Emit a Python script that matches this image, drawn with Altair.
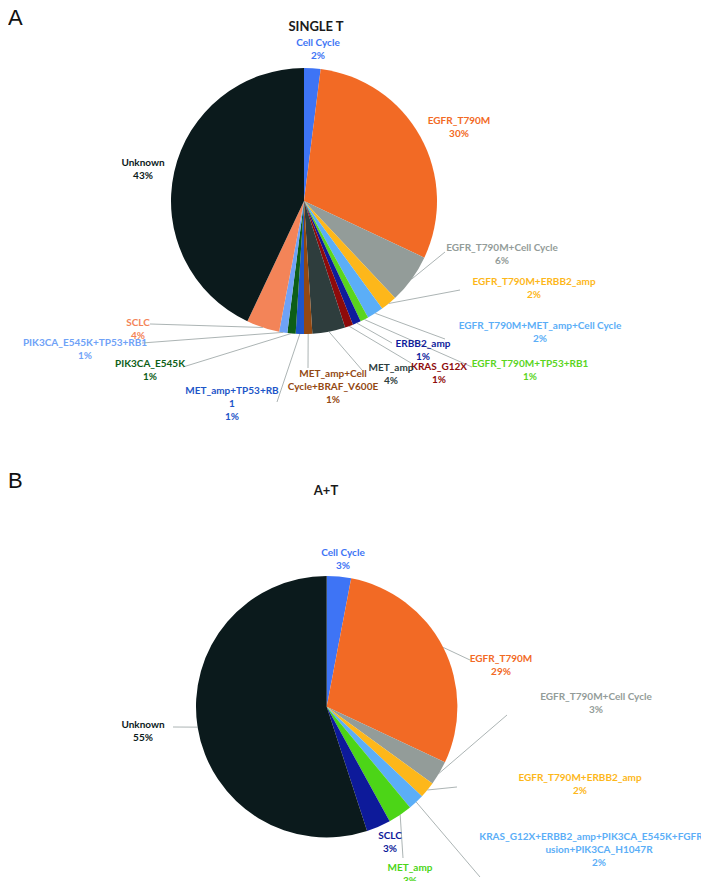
import math
import altair as alt
import pandas as pd

# ---------------- data ----------------
A_title = "SINGLE T"
A_categories = [
    "Cell Cycle", "EGFR_T790M", "EGFR_T790M+Cell Cycle", "EGFR_T790M+ERBB2_amp",
    "EGFR_T790M+MET_amp+Cell Cycle", "EGFR_T790M+TP53+RB1", "ERBB2_amp", "KRAS_G12X",
    "MET_amp", "MET_amp+Cell Cycle+BRAF_V600E", "MET_amp+TP53+RB1", "PIK3CA_E545K",
    "PIK3CA_E545K+TP53+RB1", "SCLC", "Unknown",
]
A_values = [2, 30, 6, 2, 2, 1, 1, 1, 4, 1, 1, 1, 1, 4, 43]

B_title = "A+T"
B_categories = [
    "Cell Cycle", "EGFR_T790M", "EGFR_T790M+Cell Cycle", "EGFR_T790M+ERBB2_amp",
    "KRAS_G12X+ERBB2_amp+PIK3CA_E545K+FGFR3_Fusion+PIK3CA_H1047R", "MET_amp", "SCLC", "Unknown",
]
B_values = [3, 29, 3, 2, 2, 3, 3, 55]

panel_letters = ["A", "B"]

# ---------------- styles ----------------
A_colors = ["#3E74F5", "#F26A25", "#939C99", "#FDB71A", "#5BAEF7", "#5AD51E", "#0F1C9C",
            "#8E0B0B", "#2E3D3D", "#934812", "#1D55C8", "#0D5E17", "#6FA2F7", "#F38458", "#0B1A1C"]
B_colors = ["#3E74F5", "#F26A25", "#939C99", "#FDB71A", "#5BAEF7", "#4CD517", "#0D1A9A", "#0B1A1C"]

OFF = 8  # page margin
PIES = {
    "A": dict(cx=304, cy=201, r=133),
    "B": dict(cx=326.7, cy=706.7, r=130.7),
}
TITLE_POS = {"A": (316, 27), "B": (326, 491)}
LETTER_POS = {"A": (8, 25), "B": (8, 488)}  # left / baseline

WRAP = {
    "MET_amp+Cell Cycle+BRAF_V600E": ["MET_amp+Cell", "Cycle+BRAF_V600E"],
    "MET_amp+TP53+RB1": ["MET_amp+TP53+RB", "1"],
    "KRAS_G12X+ERBB2_amp+PIK3CA_E545K+FGFR3_Fusion+PIK3CA_H1047R":
        ["KRAS_G12X+ERBB2_amp+PIK3CA_E545K+FGFR3_F", "usion+PIK3CA_H1047R"],
}

# label anchor (centre of first line) and optional leader-line end
A_layout = {
    "Cell Cycle": ((318, 43), None),
    "EGFR_T790M": ((459, 121), None),
    "EGFR_T790M+Cell Cycle": ((502, 248), (445, 252)),
    "EGFR_T790M+ERBB2_amp": ((534, 282), (460, 290)),
    "EGFR_T790M+MET_amp+Cell Cycle": ((540, 326), (445, 339)),
    "EGFR_T790M+TP53+RB1": ((530, 364), (472, 367)),
    "ERBB2_amp": ((423, 344), (392, 343)),
    "KRAS_G12X": ((439, 367), (411, 363)),
    "MET_amp": ((391, 368), (362, 370)),
    "MET_amp+Cell Cycle+BRAF_V600E": ((333, 374), (308, 368)),
    "MET_amp+TP53+RB1": ((232, 391), (277, 402)),
    "PIK3CA_E545K": ((150, 364), (183, 367)),
    "PIK3CA_E545K+TP53+RB1": ((85, 343), (142, 343)),
    "SCLC": ((138, 323), (150, 324)),
    "Unknown": ((143, 163), None),
}
B_layout = {
    "Cell Cycle": ((343, 553), None),
    "EGFR_T790M": ((501, 659), (470, 660)),
    "EGFR_T790M+Cell Cycle": ((596, 697), (507, 715)),
    "EGFR_T790M+ERBB2_amp": ((580, 778), (457, 787)),
    "KRAS_G12X+ERBB2_amp+PIK3CA_E545K+FGFR3_Fusion+PIK3CA_H1047R": ((599, 837), (480, 877)),
    "MET_amp": ((410, 868), (403, 858)),
    "SCLC": ((390, 836), None),
    "Unknown": ((143, 725), (173, 727)),
}
LINE_H = 13
FONT = "Lato"

# ---------------- build tables ----------------
arc_rows, text_rows, rule_rows = [], [], []
panels = [
    ("A", A_categories, A_values, A_colors, A_layout),
    ("B", B_categories, B_values, B_colors, B_layout),
]
for key, cats, vals, cols, layout in panels:
    p = PIES[key]
    total = float(sum(vals))
    cum = 0.0
    for cat, v, col in zip(cats, vals, cols):
        t0 = 2 * math.pi * cum / total
        cum += v
        t1 = 2 * math.pi * cum / total
        arc_rows.append(dict(panel=key, cat=cat, t0=t0, t1=t1, color=col))
        (ax, ay), end = layout[cat]
        lines = WRAP.get(cat, [cat]) + [f"{v}%"]
        for i, ln in enumerate(lines):
            text_rows.append(dict(x=ax - OFF, y=ay + i * LINE_H - OFF, text=ln, color=col))
        if end is not None:
            mid = (t0 + t1) / 2
            sx = p["cx"] + p["r"] * math.sin(mid)
            sy = p["cy"] - p["r"] * math.cos(mid)
            rule_rows.append(dict(x=sx - OFF, y=sy - OFF, x2=end[0] - OFF, y2=end[1] - OFF))

arcs = pd.DataFrame(arc_rows)
texts = pd.DataFrame(text_rows)
rules = pd.DataFrame(rule_rows)
titles = pd.DataFrame([
    dict(x=TITLE_POS[k][0] - OFF, y=TITLE_POS[k][1] - OFF, text=t)
    for k, t in (("A", A_title), ("B", B_title))
])
letters = pd.DataFrame([
    dict(x=LETTER_POS[k][0] - OFF, y=LETTER_POS[k][1] - OFF, text=k) for k in panel_letters
])

X = lambda f: alt.X(f, scale=None, axis=None)
Y = lambda f: alt.Y(f, scale=None, axis=None)

layers = []
for key in ["A", "B"]:
    p = PIES[key]
    layers.append(
        alt.Chart(arcs[arcs.panel == key]).mark_arc(radius=p["r"], stroke=None).encode(
            x=alt.value(p["cx"] - OFF),
            y=alt.value(p["cy"] - OFF),
            theta=alt.Theta("t0:Q", scale=None),
            theta2="t1:Q",
            color=alt.Color("color:N", scale=None),
        )
    )

rule_layer = alt.Chart(rules).mark_rule(color="#A3ACAB", strokeWidth=0.9).encode(
    x=X("x:Q"), y=Y("y:Q"), x2="x2:Q", y2="y2:Q"
)
text_layer = alt.Chart(texts).mark_text(
    font=FONT, fontSize=10, fontWeight="bold", align="center", baseline="middle"
).encode(x=X("x:Q"), y=Y("y:Q"), text="text:N", color=alt.Color("color:N", scale=None))
title_layer = alt.Chart(titles).mark_text(
    font=FONT, fontSize=13, fontWeight="bold", align="center", baseline="middle", color="#1A1A1A"
).encode(x=X("x:Q"), y=Y("y:Q"), text="text:N")
letter_layer = alt.Chart(letters).mark_text(
    font="Liberation Sans", fontSize=22, align="left", baseline="alphabetic", color="#111111"
).encode(x=X("x:Q"), y=Y("y:Q"), text="text:N")

chart = alt.layer(*layers, rule_layer, text_layer, title_layer, letter_layer).properties(
    width=693, height=873, padding=0, autosize=alt.AutoSizeParams(type="none")
).configure_view(stroke=None)

chart.save("out.html", embed_options={"renderer": "svg", "actions": False})
